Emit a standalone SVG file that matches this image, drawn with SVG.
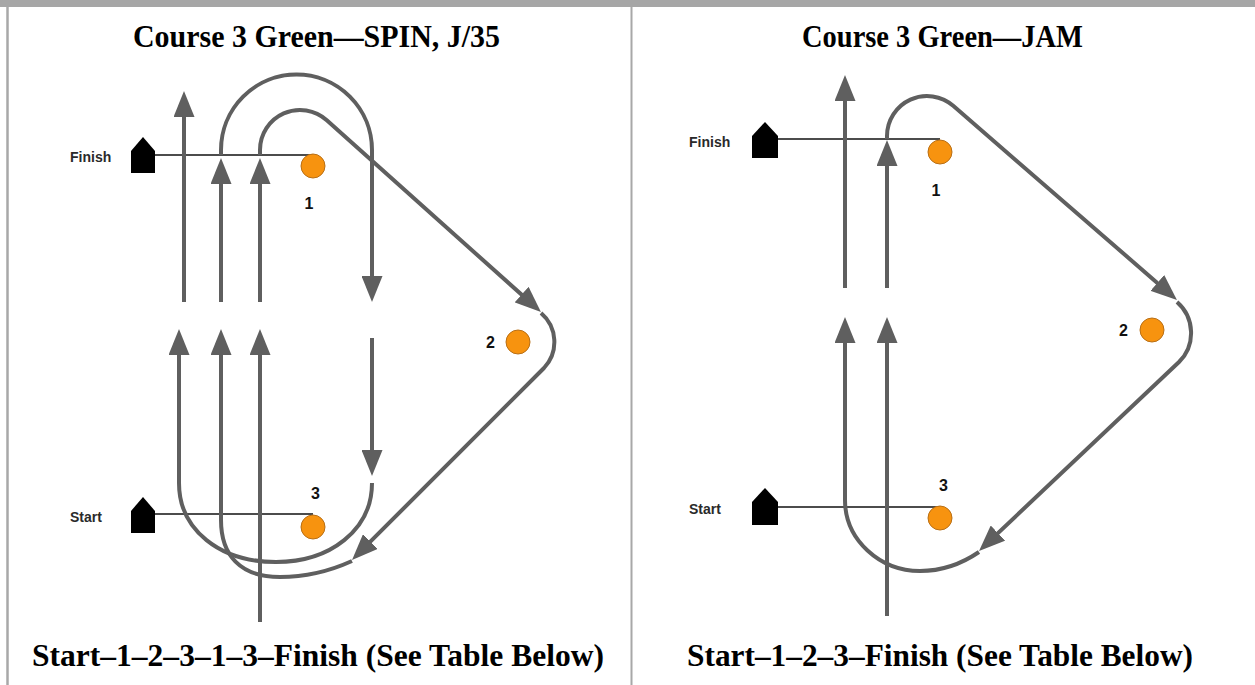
<svg xmlns="http://www.w3.org/2000/svg" width="1255" height="685" viewBox="0 0 1255 685">
<defs>
<style>
.frame{stroke:#a8a8a8;fill:none}
.title{font-family:"Liberation Serif","Times New Roman",serif;font-weight:bold;font-size:32px;fill:#000}
.lbl{font-family:"Liberation Sans",Arial,sans-serif;font-weight:bold;font-size:14px;fill:#2a2a2a}
.num{font-family:"Liberation Sans",Arial,sans-serif;font-weight:bold;font-size:16px;fill:#111}
.flag{fill:#000}
.line{stroke:#111;stroke-width:1.3;fill:none}
.mark{fill:#f7930f;stroke:#b86f16;stroke-width:1}
.route{stroke:#5f5f5f;stroke-width:4;fill:none}
.arr{marker-end:url(#ah)}
</style>
<marker id="ah" viewBox="0 0 26 21" markerWidth="26" markerHeight="21" refX="16" refY="10.5" markerUnits="userSpaceOnUse" orient="auto">
<path d="M0,0 L26,10.5 L0,21 Z" fill="#5f5f5f"/>
</marker>
</defs>
<rect width="1255" height="685" fill="#fff"/>
<g id="frame">
<rect x="0" y="0" width="1255" height="7" fill="#a6a6a6"/>
<line class="frame" x1="7.5" y1="7" x2="7.5" y2="685" stroke-width="2.5"/>
<line class="frame" x1="631.5" y1="7" x2="631.5" y2="685" stroke-width="2"/>
</g>

<!-- LEFT PANEL -->
<g id="left-title"><text class="title" x="133" y="47" textLength="367" lengthAdjust="spacingAndGlyphs">Course 3 Green—SPIN, J/35</text></g>
<g id="left-caption"><text class="title" x="32" y="666" textLength="572" lengthAdjust="spacingAndGlyphs">Start–1–2–3–1–3–Finish (See Table Below)</text></g>

<g id="left-finish">
<text class="lbl" x="70" y="162">Finish</text>
<path class="flag" d="M143 137 L155 151 V173 H131 V151 Z"/>
<line class="line" x1="155" y1="155" x2="313" y2="155"/>
</g>
<g id="left-start">
<text class="lbl" x="70" y="522">Start</text>
<path class="flag" d="M143 497 L155 511 V533 H131 V511 Z"/>
<line class="line" x1="155" y1="514" x2="313" y2="514"/>
</g>

<g id="left-connectors">
<path class="route arr" d="M184 302 V101"/>
<path class="route arr" d="M221 302 V168"/>
<path class="route arr" d="M221 155 V150 A75.5 75.5 0 0 1 372 150 V292"/>
<path class="route arr" d="M260 302 V168"/>
<path class="route arr" d="M260 155 V150 A40 40 0 0 1 326.8 120.3 L533.5 305.3"/>
<path class="route arr" d="M541 313 A38 38 0 0 1 544 368 L359.1 552.9"/>
<path class="route arr" d="M352 561 C330 571 305 577 280 577 C240 577 221 555 221 520 V339"/>
<path class="route arr" d="M372 483 C372 530 330 562 276 562 C220 562 179 530 179 483 V339"/>
<path class="route arr" d="M372 338 V466"/>
<path class="route arr" d="M260 622 V339"/>
</g>

<g id="left-mark1"><ellipse class="mark" cx="313" cy="166" rx="12" ry="12"/><text class="num" x="304.5" y="209">1</text></g>
<g id="left-mark2"><ellipse class="mark" cx="518" cy="342" rx="12" ry="12"/><text class="num" x="486" y="348">2</text></g>
<g id="left-mark3"><ellipse class="mark" cx="313" cy="527" rx="12" ry="12"/><text class="num" x="311" y="499">3</text></g>

<!-- RIGHT PANEL -->
<g id="right-title"><text class="title" x="802" y="47" textLength="281" lengthAdjust="spacingAndGlyphs">Course 3 Green—JAM</text></g>
<g id="right-caption"><text class="title" x="687" y="666" textLength="506" lengthAdjust="spacingAndGlyphs">Start–1–2–3–Finish (See Table Below)</text></g>

<g id="right-finish">
<text class="lbl" x="689" y="147">Finish</text>
<path class="flag" d="M765 122 L778 136 V158 H752 V136 Z"/>
<line class="line" x1="778" y1="139" x2="940" y2="139"/>
</g>
<g id="right-start">
<text class="lbl" x="689" y="514">Start</text>
<path class="flag" d="M765 488 L778 502 V525 H752 V502 Z"/>
<line class="line" x1="778" y1="507" x2="940" y2="507"/>
</g>

<g id="right-connectors">
<path class="route arr" d="M845 288 V85"/>
<path class="route arr" d="M887 288 V150"/>
<path class="route arr" d="M887 139 V136 A40 40 0 0 1 953.2 105.8 L1169.4 293.4"/>
<path class="route arr" d="M1177 302 A41 41 0 0 1 1179 362 L986.3 544.1"/>
<path class="route arr" d="M979 552 C960 565 940 571 920 571 C880 571 845 540 845 500 V327"/>
<path class="route arr" d="M887 616 V327"/>
</g>

<g id="right-mark1"><ellipse class="mark" cx="940" cy="152" rx="12" ry="12"/><text class="num" x="931.5" y="196">1</text></g>
<g id="right-mark2"><ellipse class="mark" cx="1152" cy="330" rx="12" ry="12"/><text class="num" x="1119" y="336">2</text></g>
<g id="right-mark3"><ellipse class="mark" cx="940" cy="518" rx="12" ry="12"/><text class="num" x="939" y="491">3</text></g>
</svg>
